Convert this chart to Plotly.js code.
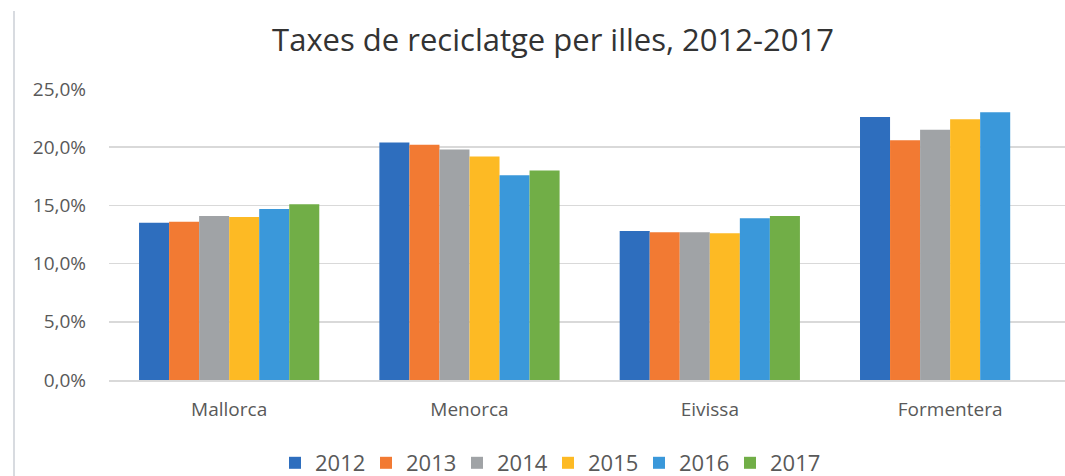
<!DOCTYPE html>
<html>
<head>
<meta charset="utf-8">
<script src="https://cdn.plot.ly/plotly-3.0.1.min.js"></script>
<style>
  html, body { margin: 0; padding: 0; background: #ffffff; overflow: hidden; }
  #chart { width: 1065px; height: 476px; }
  #edge { position: absolute; left: 13px; top: 11px; width: 2px; height: 465px; background: #d8dbe0; }
</style>
</head>
<body>
<div id="chart"></div>
<div id="edge"></div>
<script>
const islands = ["Mallorca", "Menorca", "Eivissa", "Formentera"];
const years = ["2012", "2013", "2014", "2015", "2016", "2017"];
const v2012 = [0.135, 0.204, 0.128, 0.226];
const v2013 = [0.136, 0.202, 0.127, 0.206];
const v2014 = [0.141, 0.198, 0.127, 0.215];
const v2015 = [0.140, 0.192, 0.126, 0.224];
const v2016 = [0.147, 0.176, 0.139, 0.230];
const v2017 = [0.151, 0.180, 0.141, null];
const seriesValues = [v2012, v2013, v2014, v2015, v2016, v2017];
const colors = ["#2E6EBE", "#F27A33", "#A0A3A6", "#FDBA24", "#3A98DA", "#71AE47"];

const traces = years.map((y, i) => ({
  type: "bar",
  name: y,
  x: islands,
  y: seriesValues[i],
  marker: { color: colors[i], line: { width: 0 } },
  hoverinfo: "x+y+name"
}));

const layout = {
  width: 1065,
  height: 476,
  margin: { l: 109, r: 0, t: 89, b: 96 },
  paper_bgcolor: "#ffffff",
  plot_bgcolor: "#ffffff",
  separators: ",.",
  barmode: "group",
  bargap: 0.25,
  bargroupgap: 0,
  font: { family: "Open Sans, sans-serif", color: "#595959" },
  title: {
    text: "Taxes de reciclatge per illes, 2012-2017",
    font: { family: "Open Sans, sans-serif", size: 31, color: "#333333" },
    x: 553 / 1065, xref: "container", xanchor: "center",
    y: 1 - 40 / 476, yref: "container", yanchor: "middle"
  },
  xaxis: {
    type: "category",
    range: [-0.5, 3.478],
    showgrid: false,
    zeroline: false,
    showline: true,
    linecolor: "#d9d9d9",
    linewidth: 1.5,
    ticks: "",
    ticklabelstandoff: 12,
    tickfont: { size: 19, color: "#595959" }
  },
  yaxis: {
    range: [0, 0.25],
    tickvals: [0, 0.05, 0.10, 0.15, 0.20, 0.25],
    tickformat: ".1%",
    showgrid: true,
    gridcolor: "#d9d9d9",
    gridwidth: 1.5,
    zeroline: false,
    showline: false,
    ticks: "",
    ticklabelstandoff: 22,
    tickfont: { size: 19, color: "#595959" }
  },
  showlegend: true,
  legend: {
    orientation: "h",
    x: 275 / 1065, xref: "container", xanchor: "left",
    y: 1 - 463 / 476, yref: "container", yanchor: "middle",
    font: { size: 22, color: "#595959" },
    entrywidth: 46,
    itemwidth: 30,
    traceorder: "normal"
  }
};

Plotly.newPlot("chart", traces, layout, { displayModeBar: false, staticPlot: true });
</script>
</body>
</html>
